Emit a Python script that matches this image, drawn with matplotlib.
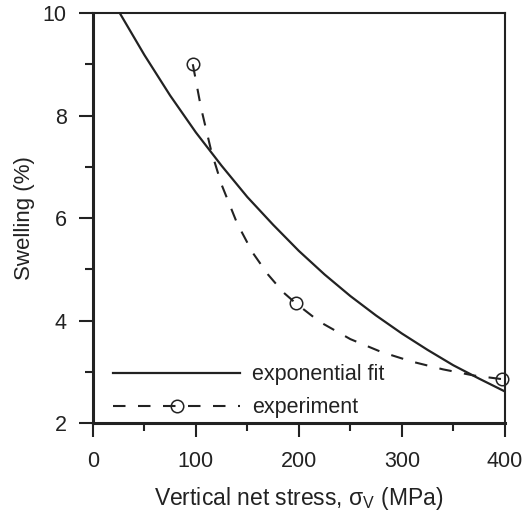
import matplotlib
matplotlib.use("Agg")
import matplotlib.pyplot as plt
from matplotlib.lines import Line2D
from matplotlib.ticker import MultipleLocator

# exponential fit curve
fit_x = [26, 50, 75, 100, 125, 150, 175, 200, 225, 250, 275, 300, 325, 350, 375, 400]
fit_y = [10.0, 9.18, 8.39, 7.67, 7.02, 6.41, 5.87, 5.36, 4.90, 4.48, 4.10, 3.75, 3.43, 3.13, 2.87, 2.62]

# dashed trend through the experiment points
trend_x = [97, 105, 115, 125, 140, 155, 170, 185, 197, 220, 250, 280, 310, 340, 370, 397]
trend_y = [9.0, 8.15, 7.30, 6.65, 5.90, 5.33, 4.90, 4.55, 4.34, 3.98, 3.64, 3.39, 3.20, 3.05, 2.93, 2.86]

# measured points
exp_x = [97, 197, 397]
exp_y = [9.0, 4.34, 2.86]

x_ticks = [0, 100, 200, 300, 400]
y_ticks = [2, 4, 6, 8, 10]

INK = "#222222"
FS = 15.5

plt.rcParams["font.family"] = ["Liberation Sans", "DejaVu Sans"]
plt.rcParams["mathtext.fontset"] = "custom"
plt.rcParams["mathtext.rm"] = "Liberation Sans"
plt.rcParams["mathtext.it"] = "Liberation Sans"
plt.rcParams["text.color"] = INK
plt.rcParams["axes.labelcolor"] = INK

fig = plt.figure(figsize=(5.22, 5.18), dpi=100)
ax = fig.add_axes([0.178, 0.183, 0.789, 0.792])

ax.plot(fit_x, fit_y, color=INK, lw=1.6, solid_capstyle="butt")
ax.plot(trend_x, trend_y, color=INK, lw=1.5, ls=(0, (6, 6)))
ax.plot(exp_x, exp_y, ls="none", marker="o", ms=9, mfc="none", mec=INK, mew=1.1, clip_on=False)

ax.set_xlim(0, 400)
ax.set_ylim(2, 10)
ax.set_xticks(x_ticks)
ax.set_yticks(y_ticks)
ax.xaxis.set_minor_locator(MultipleLocator(50))
ax.yaxis.set_minor_locator(MultipleLocator(1))
ax.tick_params(which="major", direction="out", length=10, width=1.5, color=INK,
               labelsize=FS, labelcolor=INK)
ax.tick_params(which="minor", direction="out", length=5.5, width=1.5, color=INK)
ax.tick_params(axis="x", which="major", pad=10)
ax.tick_params(axis="y", which="major", pad=9)

for side in ["left", "bottom"]:
    ax.spines[side].set_linewidth(2.2)
for side in ["top", "right"]:
    ax.spines[side].set_linewidth(1.5)
for s in ax.spines.values():
    s.set_color(INK)

ax.set_xlabel(r"Vertical net stress, σ$_{\mathrm{V}}$ (MPa)", fontsize=16.5)
ax.set_ylabel("Swelling (%)", fontsize=16)
ax.xaxis.set_label_coords(0.5, -0.15)
ax.yaxis.set_label_coords(-0.14, 0.5)

handles = [Line2D([], [], color=INK, lw=1.6),
           Line2D([], [], color=INK, lw=1.5, ls=(0, (6, 6)), marker="o", ms=9,
                  mfc="none", mec=INK, mew=1.1)]
ax.legend(handles, ["exponential fit", "experiment"], loc="lower left",
          bbox_to_anchor=(0.049, 0.012), frameon=False, fontsize=FS, numpoints=1,
          handlelength=5.9, handletextpad=0.55, labelspacing=0.55,
          borderpad=0, borderaxespad=0)

fig.savefig("out.png", dpi=100)
